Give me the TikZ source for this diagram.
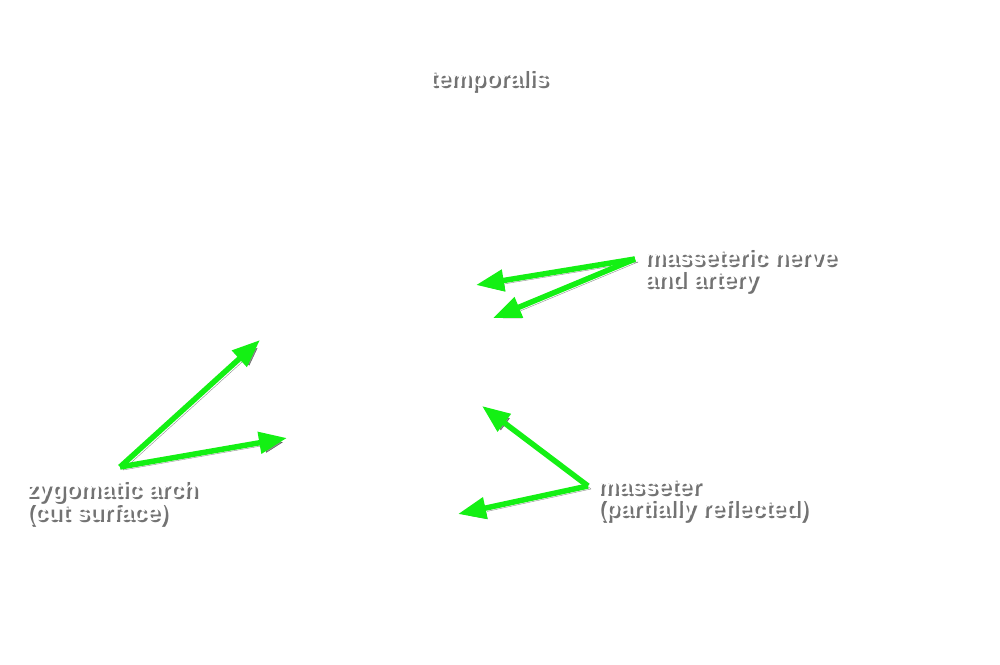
\documentclass[tikz,border=0pt]{standalone}
\usepackage{fontspec}
\setmainfont{Liberation Sans}
\usepackage{tikz}
\usetikzlibrary{calc}
\usetikzlibrary{arrows.meta}
\tikzset{>={Triangle[length=28pt,width=21pt]}}
\definecolor{ptrgreen}{RGB}{20,240,20}

\tikzset{
  lbl/.style={font=\bfseries\fontsize{23.5}{22}\selectfont, text=white, align=left, inner sep=0pt, anchor=base west},
  lblshadow/.style={lbl, text=black, text opacity=0.55},
  ptr/.style={->, line width=5.5pt, draw=ptrgreen,
    preaction={draw=black, draw opacity=0.45, fill opacity=0.45, transform canvas={shift={(3pt,-3pt)}}}},
}
% label with a drop shadow
\newcommand{\shlabel}[3]{%
  \node[lblshadow] (#1-sh) at ($(#2)+(2.5,2.5)$) {#3};
  \node[lbl] (#1) at (#2) {#3};}

\begin{document}
\begin{tikzpicture}[x=1pt,y=-1pt]
    \useasboundingbox (0,0) rectangle (1000,664);
    \shlabel{temporalis}{429,86}{temporalis}
    \shlabel{nerve}{644,287}{masseteric nerve\\and artery}
    \shlabel{zygoma}{26,520}{zygomatic arch\\(cut surface)}
    \shlabel{masseter}{597,516}{masseter\\(partially reflected)}

    \coordinate (nerve-src) at (635,259);
    \coordinate (nerve-a) at (476,285);
    \coordinate (nerve-b) at (493,318);
    \coordinate (zygoma-src) at (120,467);
    \coordinate (zygoma-a) at (260,340);
    \coordinate (zygoma-b) at (287,438);
    \coordinate (masseter-src) at (588,486);
    \coordinate (masseter-a) at (482,406);
    \coordinate (masseter-b) at (458,514);

    \draw[ptr] (nerve-src) -- (nerve-a);
    \draw[ptr] (nerve-src) -- (nerve-b);
    \draw[ptr] (zygoma-src) -- (zygoma-a);
    \draw[ptr] (zygoma-src) -- (zygoma-b);
    \draw[ptr] (masseter-src) -- (masseter-a);
    \draw[ptr] (masseter-src) -- (masseter-b);
\end{tikzpicture}
\end{document}
